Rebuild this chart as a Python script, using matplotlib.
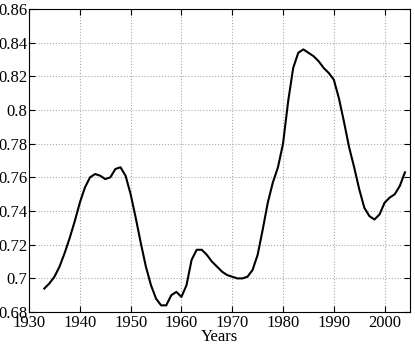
import matplotlib
matplotlib.use("Agg")
import matplotlib.pyplot as plt

years = list(range(1933, 2005))
values = [
    0.694, 0.697, 0.701, 0.707, 0.715, 0.724, 0.734, 0.745, 0.754, 0.760,
    0.762, 0.761, 0.759, 0.760, 0.765, 0.766, 0.761, 0.750, 0.736, 0.721,
    0.707, 0.696, 0.688, 0.684, 0.684, 0.690, 0.692, 0.689, 0.696, 0.711,
    0.717, 0.717, 0.714, 0.710, 0.707, 0.704, 0.702, 0.701, 0.700, 0.700,
    0.701, 0.705, 0.714, 0.729, 0.745, 0.757, 0.766, 0.780, 0.805, 0.825,
    0.834, 0.836, 0.834, 0.832, 0.829, 0.825, 0.822, 0.818, 0.807, 0.793,
    0.778, 0.766, 0.753, 0.742, 0.737, 0.735, 0.738, 0.745, 0.748, 0.750,
    0.755, 0.763,
]
xticks = [1930, 1940, 1950, 1960, 1970, 1980, 1990, 2000]
yticks = [0.68, 0.7, 0.72, 0.74, 0.76, 0.78, 0.8, 0.82, 0.84, 0.86]

plt.rcParams["font.family"] = ["Liberation Serif", "DejaVu Serif"]

fig = plt.figure(figsize=(4.15, 3.46), dpi=100)
ax = fig.add_axes([0.07, 0.098, 0.918, 0.876])
ax.plot(years, values, color="black", linewidth=1.5)

ax.set_xlim(1930, 2005)
ax.set_ylim(0.68, 0.86)
ax.set_xticks(xticks)
ax.set_yticks(yticks)
ax.set_yticklabels([("%g" % v) for v in yticks])
ax.grid(True, linestyle=":", color="#aaaaaa", linewidth=0.8)
ax.tick_params(direction="in", labelsize=12, length=4, right=True, top=True)
ax.tick_params(axis="y", pad=1)
ax.tick_params(axis="x", pad=2)
ax.set_xlabel("Years", fontsize=12, labelpad=-1)

fig.savefig("out.png", dpi=100)
